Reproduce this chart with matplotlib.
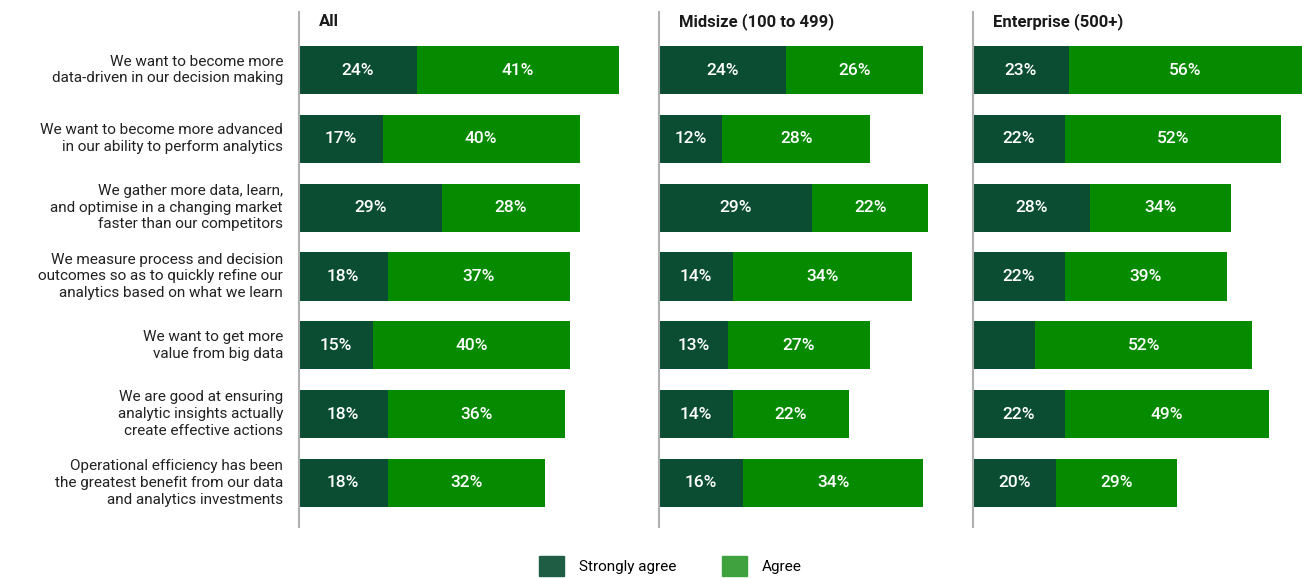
import numpy as np
import matplotlib.pyplot as plt
from matplotlib.patches import Patch

plt.rcParams['font.family'] = ['Roboto', 'DejaVu Sans']

statements = [
    "We want to become more\ndata-driven in our decision making",
    "We want to become more advanced\nin our ability to perform analytics",
    "We gather more data, learn,\nand optimise in a changing market\nfaster than our competitors",
    "We measure process and decision\noutcomes so as to quickly refine our\nanalytics based on what we learn",
    "We want to get more\nvalue from big data",
    "We are good at ensuring\nanalytic insights actually\ncreate effective actions",
    "Operational efficiency has been\nthe greatest benefit from our data\nand analytics investments",
]
panels = ["All", "Midsize (100 to 499)", "Enterprise (500+)"]

strong_all = [24, 17, 29, 18, 15, 18, 18]
agree_all = [41, 40, 28, 37, 40, 36, 32]
strong_mid = [24, 12, 29, 14, 13, 14, 16]
agree_mid = [26, 28, 22, 34, 27, 22, 34]
strong_ent = [23, 22, 28, 22, 15, 22, 20]   # 5th value has no label in the source
agree_ent = [56, 52, 34, 39, 52, 49, 29]
show_strong_ent = [True, True, True, True, False, True, True]

dark = "#0b4d33"
green = "#058a00"

fig = plt.figure(figsize=(13.02, 5.78), dpi=100)
W, H = 1302, 578

# axes boxes in pixels: left, width, xmax
boxes = [(299, 352, 71.5), (659, 301, 57), (973, 329, 79)]
data = [
    (strong_all, agree_all, [True] * 7),
    (strong_mid, agree_mid, [True] * 7),
    (strong_ent, agree_ent, show_strong_ent),
]

top, bottom = 12, 527
y = np.arange(len(statements))
for k, ((left, width, xmax), (s, a, show)) in enumerate(zip(boxes, data)):
    ax = fig.add_axes([left / W, 1 - bottom / H, width / W, (bottom - top) / H])
    s = np.array(s)
    a = np.array(a)
    ax.barh(y, s, height=0.7, color=dark)
    ax.barh(y, a, left=s, height=0.7, color=green)
    for i in range(len(y)):
        if show[i]:
            ax.text(s[i] / 2, y[i], f"{s[i]}%", color="white", ha="center",
                    va="center", fontsize=12.5, fontweight="medium")
        ax.text(s[i] + a[i] / 2, y[i], f"{a[i]}%", color="white", ha="center",
                va="center", fontsize=12.5, fontweight="medium")
    ax.set_xlim(0, xmax)
    ax.set_ylim(6.64, -0.843)
    ax.set_xticks([])
    ax.set_yticks([])
    for sp in ["top", "right", "bottom"]:
        ax.spines[sp].set_visible(False)
    ax.spines["left"].set_color("#b0b0b0")
    ax.spines["left"].set_linewidth(1.5)
    ax.text(20 / width, 1 - (22 - top) / (bottom - top), panels[k],
            transform=ax.transAxes, ha="left", va="center", fontsize=12,
            fontweight="bold", color="#1a1a1a")
    if k == 0:
        for i, lab in enumerate(statements):
            ax.text(-16 / width * xmax, y[i], lab, ha="right", va="center",
                    fontsize=11, color="#222222", linespacing=1.25)

handles = [Patch(color="#1f5e44", label="Strongly agree"),
           Patch(color="#3fa23e", label="Agree")]
fig.legend(handles=handles, loc="center", bbox_to_anchor=(0.515, 1 - 566 / H),
           ncol=2, frameon=False, fontsize=11, handlelength=1.6,
           handleheight=1.6, columnspacing=3.0, handletextpad=1.0)

fig.savefig("out.png", dpi=100)
